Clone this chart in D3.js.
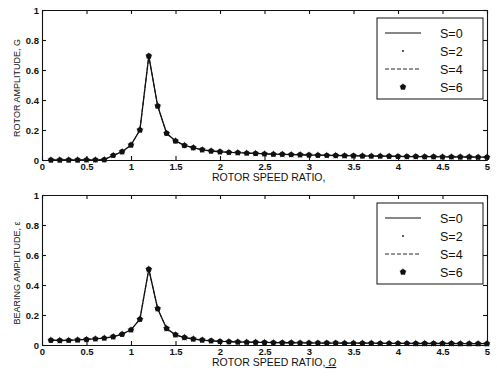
<!DOCTYPE html>
<html>
<head>
<meta charset="utf-8">
<script src="https://cdn.jsdelivr.net/npm/d3@7"></script>
<style>
  body { margin: 0; background: #fff; }
  svg { display: block; font-family: "Liberation Sans", Arial, sans-serif; }
</style>
</head>
<body>
<svg id="chart" width="497" height="376"></svg>
<script>
// rotor speed ratio (x axis), one point every 0.1
const speedRatio = [
  0.1, 0.2, 0.3, 0.4, 0.5, 0.6, 0.7, 0.8, 0.9, 1.0,
  1.1, 1.2, 1.3, 1.4, 1.5, 1.6, 1.7, 1.8, 1.9, 2.0,
  2.1, 2.2, 2.3, 2.4, 2.5, 2.6, 2.7, 2.8, 2.9, 3.0,
  3.1, 3.2, 3.3, 3.4, 3.5, 3.6, 3.7, 3.8, 3.9, 4.0,
  4.1, 4.2, 4.3, 4.4, 4.5, 4.6, 4.7, 4.8, 4.9, 5.0
];

// rotor amplitude G (top panel) - the S curves lie on top of each other
const rotorAmp = [
  0.000, 0.000, 0.000, 0.000, 0.001, 0.001, 0.002, 0.031, 0.055, 0.100,
  0.200, 0.693, 0.360, 0.178, 0.127, 0.097, 0.082, 0.068, 0.060, 0.055,
  0.051, 0.049, 0.046, 0.044, 0.041, 0.039, 0.038, 0.036, 0.035, 0.033,
  0.032, 0.031, 0.030, 0.029, 0.028, 0.027, 0.026, 0.026, 0.025, 0.024,
  0.023, 0.023, 0.022, 0.022, 0.021, 0.021, 0.020, 0.020, 0.019, 0.019
];

// bearing amplitude (bottom panel)
const bearingAmp = [
  0.032, 0.030, 0.031, 0.034, 0.037, 0.041, 0.046, 0.055, 0.072, 0.101,
  0.172, 0.505, 0.242, 0.110, 0.068, 0.050, 0.040, 0.033, 0.028, 0.024,
  0.022, 0.020, 0.019, 0.018, 0.017, 0.016, 0.015, 0.015, 0.014, 0.014,
  0.013, 0.013, 0.013, 0.012, 0.012, 0.012, 0.012, 0.011, 0.011, 0.011,
  0.011, 0.010, 0.010, 0.010, 0.010, 0.010, 0.009, 0.009, 0.009, 0.009
];

const legendNames = ["S=0", "S=2", "S=4", "S=6"];
const xTicks = [0, 0.5, 1, 1.5, 2, 2.5, 3, 3.5, 4, 4.5, 5];
const yTicks = [0, 0.2, 0.4, 0.6, 0.8, 1];

const LEFT = 42, RIGHT = 487;
const INK = "#111";

let svg = d3.select("#chart");

let x = d3.scaleLinear().domain([0, 5]).range([LEFT, RIGHT]);

// scanned matlab "*" marker : a dark round blob with tiny spikes
function drawMarker(sel) {
    sel.append("circle")
        .attr("r", 2.7)
        .attr("fill", INK);
    sel.append("path")
        .attr("d", d3.symbol().type(d3.symbolStar).size(17)())
        .attr("fill", INK);
}

function drawPanel(top, bottom, values, yLabel, xLabel, symbolChar) {

    let y = d3.scaleLinear().domain([0, 1]).range([bottom, top]);
    let g = svg.append("g");

    // axes with inward ticks, like matlab
    let bx = g.append("g")
        .attr("transform", "translate(0," + bottom + ")")
        .call(d3.axisBottom(x).tickValues(xTicks).tickSizeInner(-4).tickSizeOuter(0).tickPadding(3)
            .tickFormat(d => d3.format("")(d)));
    let tx = g.append("g")
        .attr("transform", "translate(0," + top + ")")
        .call(d3.axisTop(x).tickValues(xTicks).tickSizeInner(-4).tickSizeOuter(0).tickFormat(""));
    let ly = g.append("g")
        .attr("transform", "translate(" + LEFT + ",0)")
        .call(d3.axisLeft(y).tickValues(yTicks).tickSizeInner(-4).tickSizeOuter(0).tickPadding(3)
            .tickFormat(d => d3.format("")(d)));
    let ry = g.append("g")
        .attr("transform", "translate(" + RIGHT + ",0)")
        .call(d3.axisRight(y).tickValues(yTicks).tickSizeInner(-4).tickSizeOuter(0).tickFormat(""));

    [bx, tx, ly, ry].forEach(function(a) {
        a.selectAll("path, line").attr("stroke", INK).attr("stroke-width", 1.1);
        a.selectAll("text")
            .attr("fill", INK)
            .style("font-size", "9.5px")
            .style("font-weight", "bold");
    });

    // axis titles
    let xt = g.append("text")
        .attr("x", 212)
        .attr("y", bottom + 21)
        .attr("fill", INK)
        .style("font-size", "10.5px")
        .text(xLabel);
    if (symbolChar) {
        xt.append("tspan")
            .style("font-style", "italic")
            .style("text-decoration", "underline")
            .text(" " + symbolChar);
    }

    g.append("text")
        .attr("transform", "translate(20," + ((top + bottom) / 2 + 3) + ") rotate(-90)")
        .attr("text-anchor", "middle")
        .attr("fill", INK)
        .style("font-size", "9px")
        .text(yLabel);

    let pts = speedRatio.map((d, i) => [d, values[i]]);

    let lineGen = d3.line()
        .x(d => x(d[0]))
        .y(d => y(d[1]));

    // S=0 solid, S=4 dashed, both on the same curve
    g.append("path")
        .attr("d", lineGen(pts))
        .attr("fill", "none")
        .attr("stroke", INK)
        .attr("stroke-width", 1.3);
    g.append("path")
        .attr("d", lineGen(pts))
        .attr("fill", "none")
        .attr("stroke", INK)
        .attr("stroke-width", 1)
        .attr("stroke-dasharray", "4,2");

    // S=6 markers (S=2 dots hide under them)
    g.selectAll(".mk")
        .data(pts)
        .enter()
        .append("g")
        .attr("class", "mk")
        .attr("transform", d => "translate(" + x(d[0]) + "," + y(d[1]) + ")")
        .call(drawMarker);

    // legend
    let lg = g.append("g").attr("transform", "translate(377," + (top + 8) + ")");
    lg.append("rect")
        .attr("width", 106)
        .attr("height", 81)
        .attr("fill", "#fff")
        .attr("stroke", INK)
        .attr("stroke-width", 1);

    legendNames.forEach(function(name, i) {
        let cy = 15 + i * 18;
        if (i === 0) {
            lg.append("line").attr("x1", 8).attr("x2", 44).attr("y1", cy).attr("y2", cy)
                .attr("stroke", INK).attr("stroke-width", 1.1);
        } else if (i === 1) {
            lg.append("circle").attr("cx", 26).attr("cy", cy).attr("r", 0.9).attr("fill", INK);
        } else if (i === 2) {
            lg.append("line").attr("x1", 8).attr("x2", 44).attr("y1", cy).attr("y2", cy)
                .attr("stroke", INK).attr("stroke-width", 0.9).attr("stroke-dasharray", "4,2");
        } else {
            lg.append("g").attr("transform", "translate(26," + cy + ")").call(drawMarker);
        }
        lg.append("text")
            .attr("x", 63)
            .attr("y", cy + 4.5)
            .attr("fill", INK)
            .style("font-size", "12.5px")
            .text(name);
    });
}

drawPanel(10, 160, rotorAmp, "ROTOR AMPLITUDE, G", "ROTOR SPEED RATIO,", null);
drawPanel(195, 345, bearingAmp, "BEARING AMPLITUDE, \u03b5", "ROTOR SPEED RATIO,", "\u03a9");
</script>
</body>
</html>
